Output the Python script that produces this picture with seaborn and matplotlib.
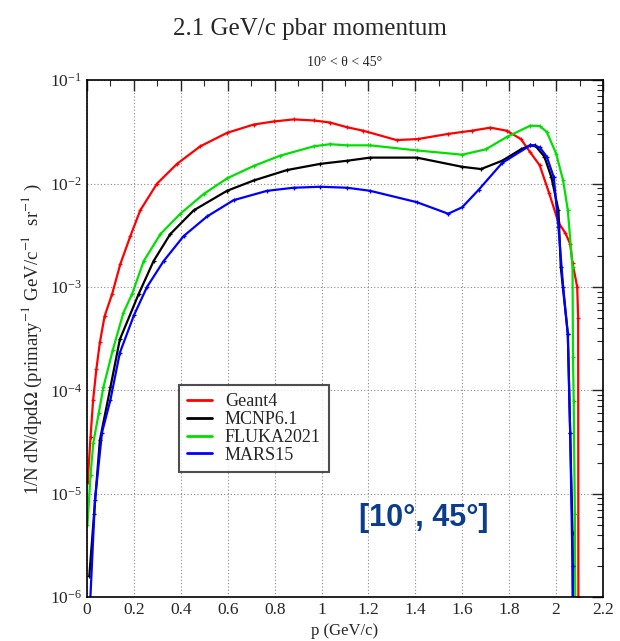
import matplotlib
matplotlib.use("Agg")
import matplotlib.pyplot as plt
import seaborn as sns
import pandas as pd
from matplotlib.ticker import MultipleLocator, LogLocator, FuncFormatter

# Geant4 (red)
geant4_p = [0.003, 0.015, 0.026, 0.04, 0.055, 0.075, 0.107, 0.142, 0.185, 0.227, 0.299, 0.384,
            0.483, 0.597, 0.711, 0.796, 0.881, 0.967, 1.036, 1.109, 1.178, 1.32, 1.41, 1.54,
            1.64, 1.72, 1.79, 1.85, 1.89, 1.93, 1.97, 2.01, 2.04, 2.06, 2.07, 2.09, 2.094, 2.095]
geant4_y = [1.3e-5, 3.5e-5, 8e-5, 1.6e-4, 2.9e-4, 5.2e-4, 8.5e-4, 1.66e-3, 3.1e-3, 5.5e-3,
            1.0e-2, 1.55e-2, 2.29e-2, 3.09e-2, 3.72e-2, 3.98e-2, 4.17e-2, 4.07e-2, 3.89e-2,
            3.5e-2, 3.24e-2, 2.63e-2, 2.69e-2, 3.02e-2, 3.24e-2, 3.47e-2, 3.24e-2, 2.69e-2,
            2.0e-2, 1.5e-2, 8.1e-3, 4.2e-3, 3.3e-3, 2.6e-3, 1.7e-3, 1.0e-3, 5e-4, 1e-6]

# MCNP6.1 (black)
mcnp_p = [0.01, 0.03, 0.055, 0.1, 0.14, 0.22, 0.284, 0.355, 0.455, 0.597, 0.711, 0.853, 0.995,
          1.109, 1.207, 1.406, 1.60, 1.68, 1.77, 1.85, 1.89, 1.91, 1.95, 1.98, 2.01, 2.02,
          2.05, 2.06, 2.07, 2.072]
mcnp_y = [1.6e-6, 6.3e-6, 3.3e-5, 1.07e-4, 3.1e-4, 8.5e-4, 1.78e-3, 3.24e-3, 5.5e-3, 8.5e-3,
          1.07e-2, 1.35e-2, 1.55e-2, 1.66e-2, 1.78e-2, 1.78e-2, 1.45e-2, 1.38e-2, 1.66e-2,
          2.14e-2, 2.34e-2, 2.34e-2, 1.82e-2, 1.15e-2, 5.5e-3, 1.55e-3, 3.5e-4, 3.9e-5,
          4.2e-6, 6e-7]

# FLUKA2021 (green)
fluka_p = [0.002, 0.015, 0.027, 0.05, 0.07, 0.11, 0.155, 0.192, 0.242, 0.313, 0.398, 0.497,
           0.597, 0.711, 0.824, 0.967, 1.036, 1.109, 1.207, 1.406, 1.60, 1.70, 1.79, 1.89,
           1.93, 1.96, 2.0, 2.03, 2.05, 2.07, 2.072, 2.075, 2.08, 2.082]
fluka_y = [5e-6, 1.5e-5, 3.1e-5, 6e-5, 1.07e-4, 2.45e-4, 5.6e-4, 8.5e-4, 1.78e-3, 3.24e-3,
           5.1e-3, 7.9e-3, 1.12e-2, 1.48e-2, 1.86e-2, 2.29e-2, 2.4e-2, 2.34e-2, 2.34e-2,
           2.09e-2, 1.9e-2, 2.14e-2, 2.82e-2, 3.63e-2, 3.6e-2, 3.16e-2, 1.95e-2, 1.07e-2,
           5.5e-3, 1.55e-3, 2.1e-4, 7.9e-5, 6.3e-6, 6e-7]

# MARS15 (blue)
mars_p = [0.01, 0.034, 0.064, 0.1, 0.14, 0.2, 0.256, 0.327, 0.412, 0.512, 0.625, 0.768, 0.881,
          0.995, 1.109, 1.207, 1.406, 1.54, 1.60, 1.67, 1.77, 1.89, 1.93, 1.96, 1.99, 2.01,
          2.03, 2.05, 2.06, 2.07, 2.072]
mars_y = [6e-7, 8.7e-6, 3.9e-5, 8.1e-5, 2.3e-4, 5.3e-4, 1.0e-3, 1.78e-3, 3.1e-3, 4.8e-3,
          6.9e-3, 8.5e-3, 9.1e-3, 9.3e-3, 9.1e-3, 8.5e-3, 6.6e-3, 5.1e-3, 5.9e-3, 8.7e-3,
          1.58e-2, 2.34e-2, 2.24e-2, 1.82e-2, 1.15e-2, 3.8e-3, 1.0e-3, 3.5e-4, 3.9e-5, 2e-6,
          6e-7]

series = [("Geant4", geant4_p, geant4_y, "#ff0000"),
          ("MCNP6.1", mcnp_p, mcnp_y, "#000000"),
          ("FLUKA2021", fluka_p, fluka_y, "#00e000"),
          ("MARS15", mars_p, mars_y, "#0000ff")]

frames = [pd.DataFrame({"p": p, "val": y, "code": name}) for name, p, y, _ in series]
df = pd.concat(frames, ignore_index=True)
palette = {name: c for name, _, _, c in series}

sns.set_theme(style="white")
plt.rcParams["font.family"] = ["Liberation Serif", "DejaVu Serif"]
plt.rcParams["mathtext.fontset"] = "stix"

fig = plt.figure(figsize=(6.2, 6.41), dpi=100)
ax = fig.add_axes([0.1403, 0.0686, 0.8323, 0.8064])

sns.lineplot(data=df, x="p", y="val", hue="code", palette=palette, sort=False,
             estimator=None, lw=1.6, marker="+", markersize=3.5, ax=ax)
# seaborn paints marker edges white; give the error-bar crosses the line colour
for ln in ax.lines:
    ln.set_markeredgecolor(ln.get_color())
    ln.set_markeredgewidth(0.9)

ax.set_yscale("log")
ax.set_xlim(0, 2.2)
ax.set_ylim(1e-6, 1e-1)
ax.xaxis.set_major_locator(MultipleLocator(0.2))
ax.xaxis.set_minor_locator(MultipleLocator(0.1))
ax.xaxis.set_major_formatter(FuncFormatter(lambda v, _: f"{v:g}"))
ax.yaxis.set_major_locator(LogLocator(base=10, numticks=10))
ax.yaxis.set_minor_locator(LogLocator(base=10, subs=range(2, 10), numticks=20))
ax.tick_params(which="both", direction="in", top=True, right=True, labelsize=12.5)
ax.tick_params(which="major", length=8, width=1)
ax.tick_params(which="minor", length=4, width=0.8)
ax.grid(True, which="major", color="#888888", linestyle=(0, (1, 2)), lw=0.8)
for s in ax.spines.values():
    s.set_color("black")
    s.set_linewidth(1.2)

ax.set_xlabel("p (GeV/c)", fontsize=12)
ax.set_ylabel(r"1/N dN/dpd$\Omega$ (primary$^{-1}$ GeV/c$^{-1}$  sr$^{-1}$ )", fontsize=13.5)
ax.set_title("10° < θ < 45°", fontsize=10, pad=10)
fig.text(0.5, 0.955, "2.1 GeV/c pbar momentum", ha="center", va="center", fontsize=18)

leg = ax.legend(loc="lower left", bbox_to_anchor=(0.178, 0.242), borderaxespad=0,
                fontsize=13, frameon=True, fancybox=False, edgecolor="#222222",
                handlelength=1.4, handletextpad=0.7, borderpad=0.45, labelspacing=0.05)
leg.get_frame().set_linewidth(1.5)
for h in leg.get_lines():
    h.set_marker("")
    h.set_linewidth(2)

ax.text(0.653, 0.153, "[10°, 45°]", transform=ax.transAxes, ha="center", va="center",
        fontsize=22, fontweight="bold", color="#0b3d8c", family=["Liberation Sans", "DejaVu Sans"])

fig.savefig("out.png", dpi=100)
